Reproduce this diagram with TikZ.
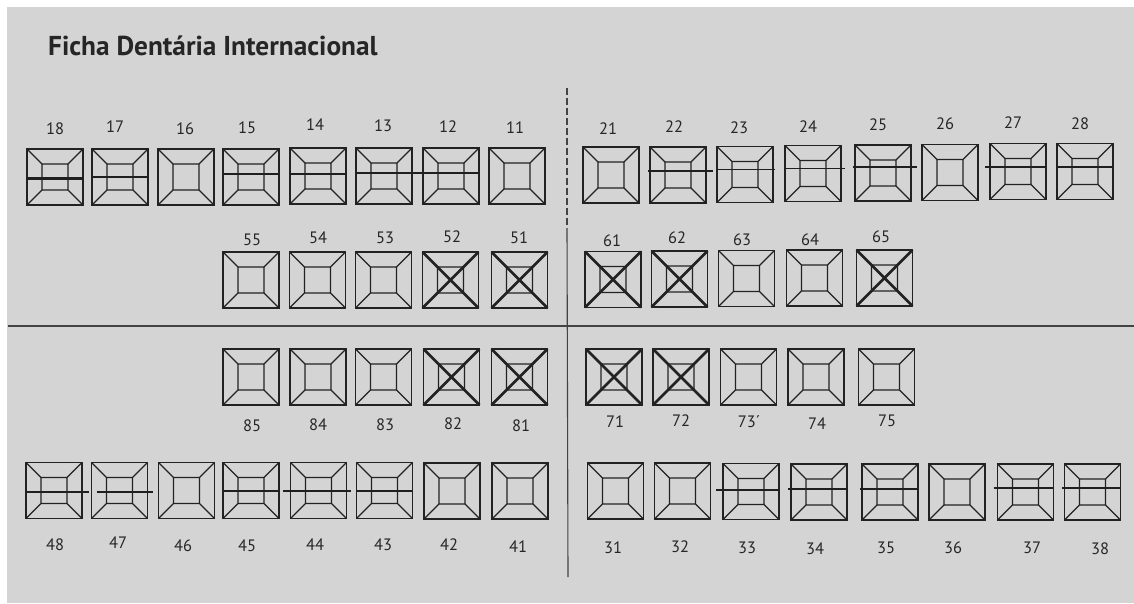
\documentclass[tikz,border=0pt]{standalone}
\usepackage{fontspec}
\setmainfont{PT Sans}
\usetikzlibrary{calc}
\definecolor{paper}{HTML}{D4D4D4}
\definecolor{ink}{HTML}{222222}
\definecolor{txt}{HTML}{262626}
\tikzset{
  toothbox/.style={draw=ink, line width=1.6pt, minimum size=56pt, inner sep=0pt, outer sep=0pt},
  inner/.style={draw=ink, line width=1.3pt},
  barline/.style={draw=ink!90!black, line width=1.9pt},
  cross/.style={draw=ink, line width=2.6pt},
  lbl/.style={text=txt, font=\fontsize{16.5}{18}\selectfont, inner sep=0pt},
  ttl/.style={text=txt, font=\fontsize{27.3}{30}\selectfont\bfseries, inner sep=0pt},
  rule/.style={draw=ink!85, line width=1.1pt}
}
\newcommand\tooth[3]{%
  \node[toothbox] (t#1) at (#2,#3) {};
  \draw[inner] ($(t#1.center)+(-13,-13)$) rectangle ($(t#1.center)+(13,13)$)
    (t#1.north west) -- ($(t#1.center)+(-13,-13)$)
    (t#1.north east) -- ($(t#1.center)+(13,-13)$)
    (t#1.south west) -- ($(t#1.center)+(-13,13)$)
    (t#1.south east) -- ($(t#1.center)+(13,13)$);}
% \tbar{tooth}{dy}{left ext}{right ext}
\newcommand\tbar[4]{%
  \draw[barline] ($(t#1.west)+(-#3,#2)$) -- ($(t#1.east)+(#4,#2)$);}
\newcommand\xmark[1]{%
  \draw[cross] (t#1.north west) -- (t#1.south east) (t#1.north east) -- (t#1.south west);}
\begin{document}
\begin{tikzpicture}[x=1pt,y=-1pt]
\useasboundingbox (0,0) rectangle (1134,603);
\fill[white] (0,0) rectangle (1134,603);
\fill[paper] (7,7) rectangle (1134,603);

\node[ttl, anchor=base west] (title) at (48,55) {Ficha Dentária Internacional};

% quadrant rules
\coordinate (vtop) at (567,88);
\coordinate (vmid) at (567,228);
\coordinate (vbot) at (568,577);
\coordinate (hl) at (8,326);
\coordinate (hr) at (1134,326);
\draw[rule, dash pattern=on 7pt off 3pt] (vtop) -- (vmid);
\draw[rule] (vmid) -- (vbot);
\draw[rule] (hl) -- (hr);

% ---- row 1: upper permanent
\tooth{18}{55}{177}
\tooth{17}{120}{177}
\tooth{16}{186}{177}
\tooth{15}{251}{177}
\tooth{14}{318}{176}
\tooth{13}{384}{176}
\tooth{12}{451}{176}
\tooth{11}{517}{176}
\tooth{21}{611}{175}
\tooth{22}{678}{175}
\tooth{23}{745}{174.5}
\tooth{24}{813}{173.5}
\tooth{25}{883}{173}
\tooth{26}{950}{172.5}
\tooth{27}{1018}{171.5}
\tooth{28}{1085}{171.5}

\node[lbl] (n18) at (55,129) {18};
\node[lbl] (n17) at (115,127) {17};
\node[lbl] (n16) at (185,129) {16};
\node[lbl] (n15) at (247,128) {15};
\node[lbl] (n14) at (315,125) {14};
\node[lbl] (n13) at (383,126) {13};
\node[lbl] (n12) at (448,127) {12};
\node[lbl] (n11) at (515,128) {11};
\node[lbl] (n21) at (608,129) {21};
\node[lbl] (n22) at (674,127) {22};
\node[lbl] (n23) at (739,128) {23};
\node[lbl] (n24) at (808,127) {24};
\node[lbl] (n25) at (878,125) {25};
\node[lbl] (n26) at (945,124) {26};
\node[lbl] (n27) at (1013,123) {27};
\node[lbl] (n28) at (1080,124) {28};

\draw[barline, line width=3pt] ($(t18.west)+(0,1)$) -- ($(t18.east)+(0,1)$);
\tbar{17}{0}{-1}{0}
\tbar{15}{-3}{0}{0}
\tbar{14}{-2}{0}{0}
\draw[barline] ($(t13.west)+(0,-3)$) -- ($(t12.east)+(1,-3)$);
\tbar{22}{-4}{2}{7}
\tbar{23}{-5}{0}{2}
\tbar{24}{-5}{0}{4}
\tbar{25}{-6}{2}{6}
\tbar{27}{-4.5}{5}{0}
\tbar{28}{-4.5}{0}{0}

% ---- row 2: upper primary
\tooth{55}{251}{280}
\tooth{54}{317.5}{280}
\tooth{53}{383.5}{280}
\tooth{52}{450.5}{280}
\tooth{51}{519.5}{280}
\tooth{61}{613}{279.5}
\tooth{62}{679.5}{279}
\tooth{63}{746.5}{278.5}
\tooth{64}{814.5}{278}
\tooth{65}{884.5}{278}

\node[lbl] (n55) at (252,240) {55};
\node[lbl] (n54) at (318,238) {54};
\node[lbl] (n53) at (385,238) {53};
\node[lbl] (n52) at (452,237) {52};
\node[lbl] (n51) at (519,238) {51};
\node[lbl] (n61) at (612,241) {61};
\node[lbl] (n62) at (677,238) {62};
\node[lbl] (n63) at (742,240) {63};
\node[lbl] (n64) at (810,240) {64};
\node[lbl] (n65) at (881,237) {65};

\xmark{52}
\xmark{51}
\xmark{61}
\xmark{62}
\xmark{65}

% ---- row 3: lower primary
\tooth{85}{251}{377}
\tooth{84}{318}{377}
\tooth{83}{383.5}{377}
\tooth{82}{451.5}{377}
\tooth{81}{519.5}{377}
\tooth{71}{614}{377}
\tooth{72}{681}{377}
\tooth{73}{748.5}{377}
\tooth{74}{816}{377}
\tooth{75}{886.5}{377}

\node[lbl] (n85) at (252,426) {85};
\node[lbl] (n84) at (318,425) {84};
\node[lbl] (n83) at (385,425) {83};
\node[lbl] (n82) at (453,424) {82};
\node[lbl] (n81) at (521,426) {81};
\node[lbl] (n71) at (615,422) {71};
\node[lbl] (n72) at (681,421) {72};
\node[lbl] (n73) at (749,422) {73´};
\node[lbl] (n74) at (817,424) {74};
\node[lbl] (n75) at (887,421) {75};

\xmark{82}
\xmark{81}
\xmark{71}
\xmark{72}

% ---- row 4: lower permanent
\tooth{48}{54}{490.5}
\tooth{47}{119.5}{490.5}
\tooth{46}{186.5}{490.5}
\tooth{45}{251}{490.5}
\tooth{44}{318.5}{490.5}
\tooth{43}{384.5}{490.5}
\tooth{42}{452}{491}
\tooth{41}{520}{491}
\tooth{31}{615.5}{491}
\tooth{32}{682.5}{491}
\tooth{33}{751}{491.5}
\tooth{34}{819}{492}
\tooth{35}{890}{492}
\tooth{36}{957}{492}
\tooth{37}{1025.5}{492}
\tooth{38}{1092.5}{492}

\node[lbl] (n48) at (55,545) {48};
\node[lbl] (n47) at (118,543) {47};
\node[lbl] (n46) at (183,546) {46};
\node[lbl] (n45) at (247,546) {45};
\node[lbl] (n44) at (315,545) {44};
\node[lbl] (n43) at (383,545) {43};
\node[lbl] (n42) at (449,545) {42};
\node[lbl] (n41) at (518,547) {41};
\node[lbl] (n31) at (613,548) {31};
\node[lbl] (n32) at (680,547) {32};
\node[lbl] (n33) at (747,548) {33};
\node[lbl] (n34) at (815,549) {34};
\node[lbl] (n35) at (886,548) {35};
\node[lbl] (n36) at (953,548) {36};
\node[lbl] (n37) at (1032,548) {37};
\node[lbl] (n38) at (1100,549) {38};

\tbar{48}{1.5}{0}{7}
\tbar{47}{1.5}{-5}{5}
\tbar{45}{0.5}{0}{0}
\tbar{44}{0.5}{8}{4}
\tbar{43}{0.5}{0}{0}
\tbar{33}{-1.5}{7}{0}
\tbar{34}{-3}{3}{1}
\tbar{35}{-3}{2}{0}
\tbar{37}{-4}{4}{0}
\tbar{38}{-4}{3}{0}
\end{tikzpicture}
\end{document}
